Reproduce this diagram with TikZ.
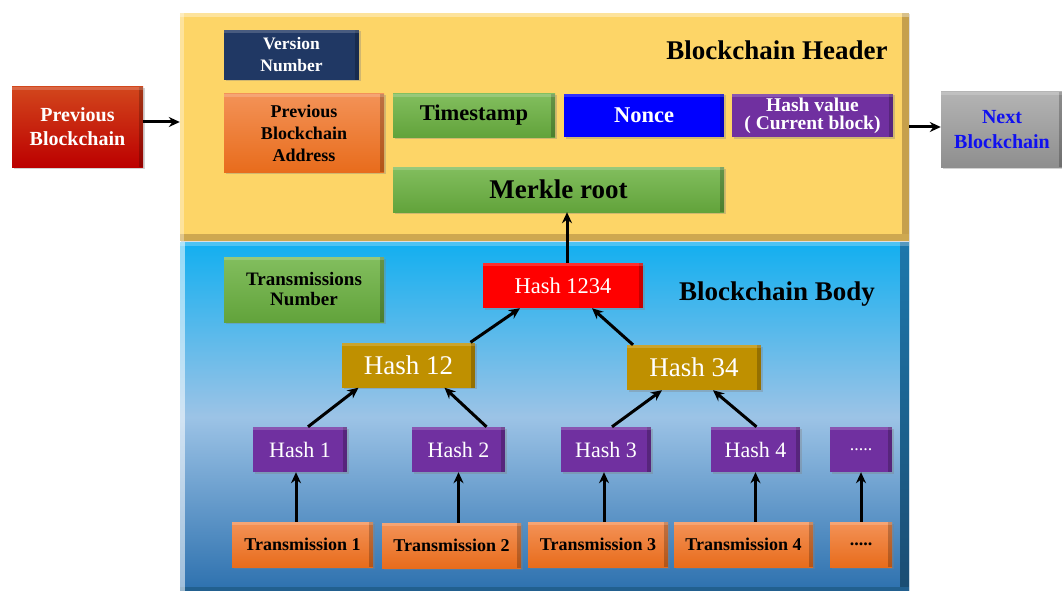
\documentclass[tikz,border=0pt]{standalone}
\usepackage{fontspec}
\setmainfont{Liberation Serif}
\usetikzlibrary{arrows.meta,shadows,calc}
\definecolor{hdrfill}{HTML}{FDD567}
\definecolor{hdredge}{HTML}{C6A04C}
\definecolor{bodytop}{HTML}{12AFF0}
\definecolor{bodymid}{HTML}{9CC3E6}
\definecolor{bodybot}{HTML}{2C70AE}
\definecolor{bodyedge}{HTML}{22608F}
\definecolor{navy}{HTML}{203864}
\definecolor{orgtop}{HTML}{F39257}
\definecolor{orgbot}{HTML}{E86C1C}
\definecolor{grntop}{HTML}{82BE5E}
\definecolor{grnbot}{HTML}{62A33B}
\definecolor{purp}{HTML}{7030A0}
\definecolor{gold}{HTML}{BF9000}
\definecolor{redtop}{HTML}{D2461C}
\definecolor{redbot}{HTML}{BC0000}
\definecolor{grytop}{HTML}{B4B4B4}
\definecolor{grybot}{HTML}{8E8E8E}
\definecolor{nextblue}{HTML}{1010F0}
\tikzset{
  x=1pt, y=-1pt,
  box/.style={rectangle, inner sep=0pt, align=center,
    drop shadow={shadow xshift=1.5pt, shadow yshift=-1.5pt, opacity=.35},
    path picture={
      \fill[black,opacity=.22] ([xshift=-4pt]path picture bounding box.south east) rectangle (path picture bounding box.north east);
      \fill[white,opacity=.18] (path picture bounding box.north west) rectangle ([yshift=-3pt]path picture bounding box.north east);}},
  orangebox/.style={box, top color=orgtop, bottom color=orgbot, text=black},
  greenbox/.style={box, top color=grntop, bottom color=grnbot, text=black},
  hashbox/.style={box, fill=purp, text=white, font=\fontsize{22}{24}\selectfont,
    minimum height=45pt},
  transbox/.style={orangebox, font=\bfseries\fontsize{18}{20}\selectfont, minimum height=45pt},
  goldbox/.style={box, fill=gold, text=white, font=\fontsize{27}{30}\selectfont, minimum height=45pt},
  title/.style={font=\bfseries\fontsize{27}{30}\selectfont, text=black, inner sep=0pt},
  arr/.style={-{Stealth[length=11pt,width=10pt]}, line width=3pt, black},
}
\begin{document}
\begin{tikzpicture}
\useasboundingbox[fill=white] (0,0) rectangle (1062,591);

% panels
\node[rectangle, inner sep=0pt, fill=hdrfill, minimum width=729pt, minimum height=228pt,
  drop shadow={shadow xshift=1pt, shadow yshift=-1pt, opacity=.25},
  path picture={
    \fill[hdredge] ([xshift=-7pt]path picture bounding box.south east) rectangle (path picture bounding box.north east);
    \fill[hdredge!85!hdrfill] (path picture bounding box.south west) rectangle ([yshift=7pt]path picture bounding box.south east);
    \fill[white,opacity=.35] (path picture bounding box.north west) rectangle ([yshift=-4pt]path picture bounding box.north east);
    \fill[white,opacity=.35] (path picture bounding box.north west) rectangle ([xshift=4pt]path picture bounding box.south west);}]
  (header) at (544.5,127) {};
\node[rectangle, inner sep=0pt, top color=bodytop, bottom color=bodybot, middle color=bodymid,
  minimum width=729pt, minimum height=350pt,
  path picture={
    \shade[top color=bodyedge!70!bodytop, bottom color=bodyedge!80!black] ([xshift=-9pt]path picture bounding box.south east) rectangle (path picture bounding box.north east);
    \fill[bodyedge] (path picture bounding box.south west) rectangle ([yshift=5pt]path picture bounding box.south east);
    \fill[white,opacity=.25] (path picture bounding box.north west) rectangle ([yshift=-4pt]path picture bounding box.north east);
    \fill[white,opacity=.55] (path picture bounding box.north west) rectangle ([xshift=5pt]path picture bounding box.south west);}]
  (body) at (544.5,417) {};

% outside blocks
\node[box, top color=redtop, bottom color=redbot, text=white, font=\bfseries\fontsize{20}{24}\selectfont,
  minimum width=131pt, minimum height=80pt] (prev) at (77.5,127) {Previous\\Blockchain};
\node[box, top color=grytop, bottom color=grybot, text=nextblue, font=\bfseries\fontsize{20}{25}\selectfont,
  minimum width=122pt, minimum height=75pt] (next) at (1002,129.5) {Next\\Blockchain};

% header content
\node[title] (htitle) at (777,50) {Blockchain Header};
\node[box, fill=navy, text=white, font=\bfseries\fontsize{17.5}{22}\selectfont,
  minimum width=135pt, minimum height=50pt] (ver) at (291.5,55) {Version\\Number};
\node[orangebox, font=\bfseries\fontsize{18}{22}\selectfont,
  minimum width=160pt, minimum height=78pt] (pba) at (304,133) {Previous\\Blockchain\\Address};
\node[greenbox, font=\bfseries\fontsize{22.5}{24}\selectfont,
  minimum width=162pt, minimum height=43pt] (ts) at (474,115.5) {Timestamp};
\node[box, fill=blue, text=white, font=\bfseries\fontsize{22.5}{24}\selectfont,
  minimum width=160pt, minimum height=43pt] (nonce) at (644,115.5) {Nonce};
\node[box, fill=purp, text=white, font=\bfseries\fontsize{19.5}{18}\selectfont,
  minimum width=161pt, minimum height=43pt] (hv) at (812.5,115.5) {Hash value\\( Current block)};
\node[greenbox, font=\bfseries\fontsize{27}{30}\selectfont,
  minimum width=331pt, minimum height=45pt] (merkle) at (558.5,189.5) {Merkle root};

% body content
\node[title] (btitle) at (777,294) {Blockchain Body};
\node[greenbox, font=\bfseries\fontsize{19}{20}\selectfont,
  minimum width=160pt, minimum height=65pt] (tn) at (304,289.5) {Transmissions\\Number};
\node[box, fill=red, text=white, font=\fontsize{22.5}{24}\selectfont,
  minimum width=160pt, minimum height=45pt] (h1234) at (563,285.5) {Hash 1234};
\node[goldbox, minimum width=133pt] (h12) at (408.5,365) {Hash 12};
\node[goldbox, minimum width=134pt] (h34) at (694,367.5) {Hash 34};

\node[hashbox, minimum width=94pt] (h1) at (300,449.5) {Hash 1};
\node[hashbox, minimum width=93pt] (h2) at (458.5,449.5) {Hash 2};
\node[hashbox, minimum width=90pt] (h3) at (606,449.5) {Hash 3};
\node[hashbox, minimum width=89pt] (h4) at (755.5,449.5) {Hash 4};
\node[hashbox, minimum width=62pt, font=\fontsize{18}{20}\selectfont] (h5) at (861,449.5) {.....};

\node[transbox, minimum width=141pt] (t1) at (302.5,544.5) {Transmission 1};
\node[transbox, minimum width=139pt] (t2) at (451.5,545.5) {Transmission 2};
\node[transbox, minimum width=140pt] (t3) at (598,544.5) {Transmission 3};
\node[transbox, minimum width=139pt] (t4) at (743.5,544.5) {Transmission 4};
\node[transbox, minimum width=62pt] (t5) at (861,544.5) {.....};

% connectors
\draw[arr] ([yshift=5pt]prev.east) -- ([yshift=5pt]prev.east -| header.west);
\draw[arr] ([yshift=2.5pt]next.west -| header.east) -- ([yshift=2.5pt]next.west);
\draw[arr] ([xshift=4pt]h1234.north) -- ([xshift=4pt]h1234.north |- merkle.south);

\draw[arr] ([xshift=8pt]h1.north) -- ([xshift=-50pt]h12.south);
\draw[arr] ([xshift=28pt]h2.north) -- ([xshift=36pt]h12.south);
\draw[arr] ([xshift=6pt]h3.north) -- ([xshift=-32pt]h34.south);
\draw[arr] ([xshift=1pt]h4.north) -- ([xshift=19pt]h34.south);
\draw[arr] ([xshift=62pt]h12.north) -- ([xshift=-43pt]h1234.south);
\draw[arr] ([xshift=-61pt]h34.north) -- ([xshift=29pt]h1234.south);

\draw[arr] ([xshift=-4pt]h1.south |- t1.north) -- ([xshift=-4pt]h1.south);
\draw[arr] (h2.south |- t2.north) -- (h2.south);
\draw[arr] ([xshift=-2pt]h3.south |- t3.north) -- ([xshift=-2pt]h3.south);
\draw[arr] (h4.south |- t4.north) -- (h4.south);
\draw[arr] (h5.south |- t5.north) -- (h5.south);
\end{tikzpicture}
\end{document}
